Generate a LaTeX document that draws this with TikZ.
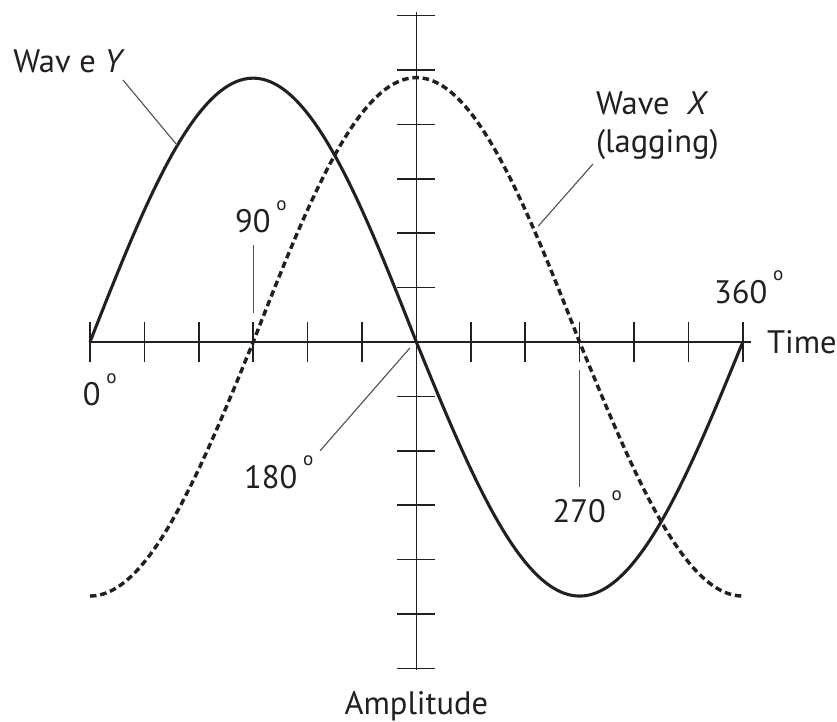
\documentclass[tikz,border=0pt]{standalone}
\usepackage{fontspec}
\setmainfont{PT Sans}
\usetikzlibrary{calc}
\definecolor{inkgray}{HTML}{231F20}
\definecolor{leadgray}{HTML}{555555}
\newcommand{\dg}{\hspace{3pt}\raisebox{1.4ex}{\fontsize{10}{10}\selectfont o}}

\begin{document}
\begin{tikzpicture}[font=\fontsize{17}{20}\selectfont,color=inkgray,
  ax/.style={draw=inkgray,line width=0.8pt},
  tk/.style={draw=inkgray,line width=0.8pt},
  wv/.style={line width=1.6pt,line join=round},
  wvdash/.style={wv,line width=1.8pt,dash pattern=on 3.4pt off 2pt},
  ld/.style={draw=leadgray,line width=0.6pt},
  lb/.style={inner sep=0pt,text=inkgray}]
\useasboundingbox (-1.654,-6.967) rectangle (13.732,6.287);
% axes
\coordinate (o) at (0,0);
\coordinate (xe) at (12.15,0);
\coordinate (yt) at (6,6.07);
\coordinate (yb) at (6,-6.03);
\draw[ax] (o) -- (xe);
\draw[ax] (yt) -- (yb);
\foreach \i in {0,...,5,7,8,...,12} \draw[tk] (\i,-0.36) -- (\i,0.36);
\foreach \j in {-6,...,-1,1,2,...,6} \draw[tk] (5.65,\j) -- (6.35,\j);
% waves
\draw[wv] plot[domain=0:12,samples=121,smooth]
  (\x,{(sin(30*\x)>0 ? 4.85 : 4.67)*sin(30*\x)});
\draw[wvdash] plot[domain=0:12,samples=121,smooth]
  (\x,{(-cos(30*\x)>0 ? 4.86 : 4.67)*(-cos(30*\x))});
% points on the curves and axis
\coordinate (py) at (1.6,3.62);
\coordinate (px) at (8.24,2.13);
\coordinate (p90) at (3,0.53);
\coordinate (p180) at (5.88,-0.11);
\coordinate (p270) at (9,-0.51);
% labels
\node[lb,anchor=base west] (wy) at (-1.415,4.96) {Wav e \textit{Y}};
\node[lb,align=left] (wx) at (10.43,3.97) {Wave\ \ \textit{X}\\(lagging)};
\node[lb] (d90) at (3.14,2.3) {90\dg};
\node[lb] (d0) at (0.18,-0.88) {0\dg};
\node[lb] (d180) at (3.47,-2.4) {180\dg};
\node[lb] (d270) at (9.14,-3.03) {270\dg};
\node[lb] (d360) at (12.11,1.0) {360\dg};
\node[lb,anchor=west] (tm) at (12.44,0) {Time};
\node[lb] (am) at (6,-6.69) {Amplitude};
% leaders
\draw[ld] (0.607,4.816) -- (py);
\draw[ld] (9.246,3.272) -- (px);
\draw[ld] (3,1.78) -- (p90);
\draw[ld] (4.23,-2.0) -- (p180);
\draw[ld] (9,-2.67) -- (p270);
\end{tikzpicture}
\end{document}
